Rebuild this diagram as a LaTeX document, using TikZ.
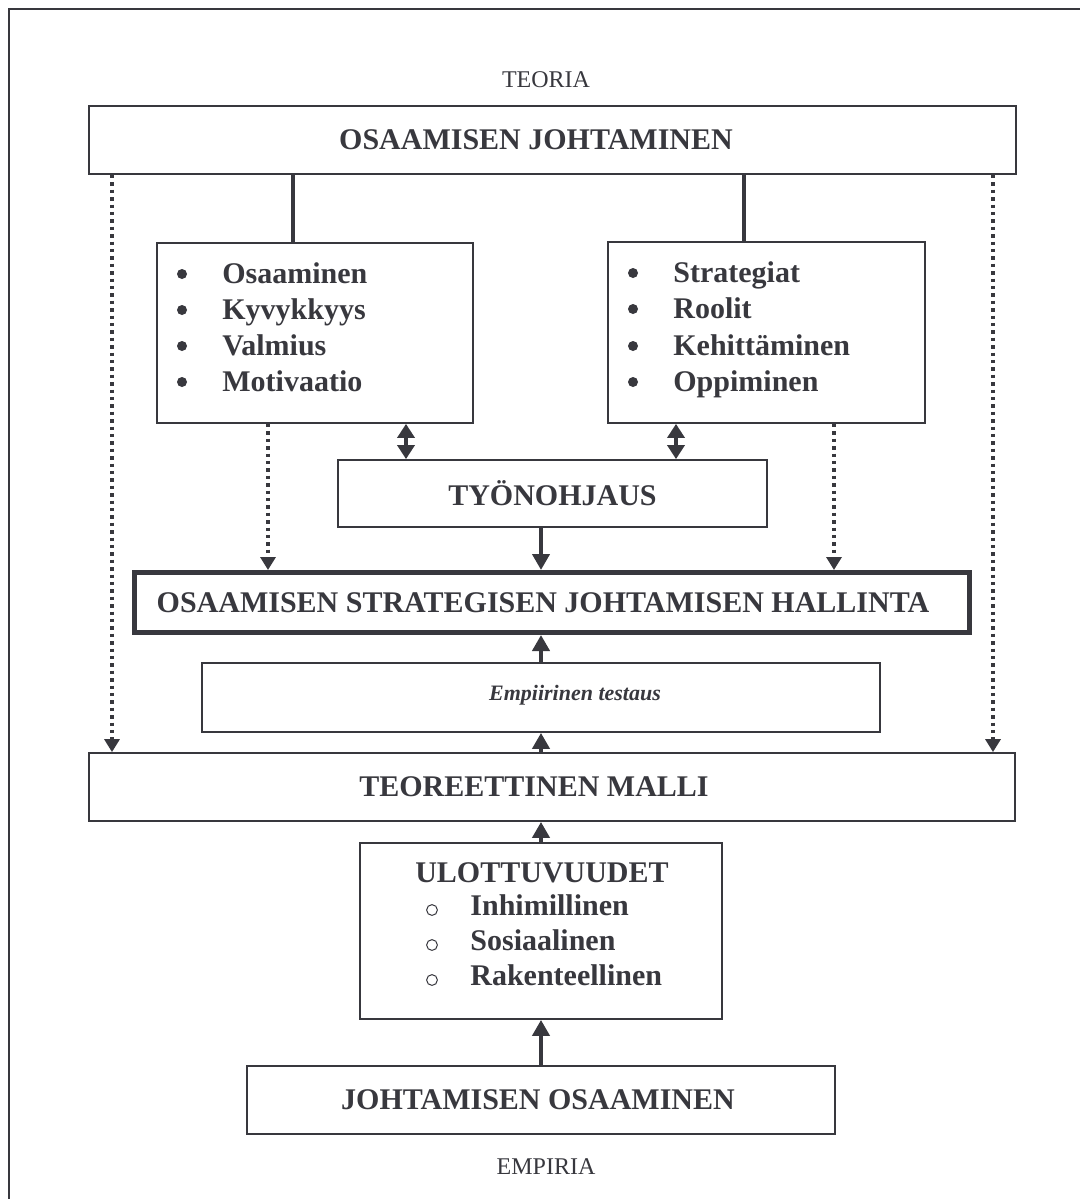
\documentclass[tikz,border=0pt]{standalone}
\usepackage{fontspec}
\setmainfont{Liberation Serif}
\usetikzlibrary{arrows.meta}
\definecolor{ink}{RGB}{56,56,62}
\begin{document}
\begin{tikzpicture}[x=0.5pt,y=-0.5pt,
  every node/.style={text=ink, font=\fontsize{15}{18}\selectfont\bfseries},
  box/.style={draw=ink, line width=0.9pt, inner sep=0pt, fill=white},
  plain/.style={text=ink, font=\fontsize{12}{14}\selectfont, inner sep=0pt},
  item/.style={anchor=base west, inner sep=0pt},
  link/.style={draw=ink, line width=1.6pt},
  arr/.style={draw=ink, line width=2.2pt, -{Triangle[width=8.5pt,length=8pt]}},
  dotarr/.style={draw=ink, line width=1.7pt, dash pattern=on 1.7pt off 2pt, -{Triangle[width=7.5pt,length=6.5pt]}},
  dblarr/.style={draw=ink, line width=2.4pt, {Triangle[width=8.5pt,length=7pt]}-{Triangle[width=8.5pt,length=7pt]}},
  dot/.style={fill=ink},
  ring/.style={draw=ink, line width=0.5pt},
]
\useasboundingbox (0,0) rectangle (1080,1199);
% frame
\draw[ink, line width=1pt] (9,1199) -- (9,9) -- (1080,9);

% headings
\node[plain] (teoria) at (546,80) {TEORIA};
\node[plain] (empiria) at (546,1167) {EMPIRIA};

% boxes
\node[box, minimum width=463.5pt, minimum height=34pt] (A) at (552.5,140) {};
\node[box, minimum width=158pt, minimum height=90pt] (L) at (315,333) {};
\node[box, minimum width=158.5pt, minimum height=90.5pt] (R) at (766.5,332.5) {};
\node[box, minimum width=214.5pt, minimum height=33.5pt] (T) at (552.5,493.5) {TYÖNOHJAUS};
\node[box, line width=2.5pt, minimum width=417.5pt, minimum height=30pt] (S) at (552,602.5) {};
\node[box, minimum width=339pt, minimum height=34.5pt] (E) at (541,697.5) {};
\node[box, minimum width=463pt, minimum height=34pt] (M) at (552,787) {};
\node[box, minimum width=181pt, minimum height=88pt] (U) at (541,931) {};
\node[box, minimum width=294pt, minimum height=34pt] (J) at (541,1100) {};

% box titles
\node (At) at (536,140) {OSAAMISEN JOHTAMINEN};
\node (St) at (543,602.5) {OSAAMISEN STRATEGISEN JOHTAMISEN HALLINTA};
\node[font=\fontsize{11}{13}\selectfont\bfseries\itshape] (Et) at (575,695) {Empiirinen testaus};
\node (Mt) at (534,787) {TEOREETTINEN MALLI};
\node (Jt) at (538,1100) {JOHTAMISEN OSAAMINEN};

% left list
\foreach \y/\t [count=\i] in {283/Osaaminen,319/Kyvykkyys,355/Valmius,391/Motivaatio}{
  \fill[dot] (182,\y-9) circle (2.5pt);
  \node[item] (l\i) at (222,\y) {\t};
}
% right list
\foreach \y/\t [count=\i] in {282/Strategiat,318/Roolit,355/Kehittäminen,391/Oppiminen}{
  \fill[dot] (633,\y-9) circle (2.5pt);
  \node[item] (r\i) at (673,\y) {\t};
}
% dimensions
\node[anchor=base, inner sep=0pt] (uh) at (542,882) {ULOTTUVUUDET};
\foreach \y/\t [count=\i] in {915/Inhimillinen,950/Sosiaalinen,985/Rakenteellinen}{
  \draw[ring] (432,\y-5) circle (2.7pt);
  \node[item] (u\i) at (470,\y) {\t};
}

% connector columns
\coordinate (xa) at (541,0);
\coordinate (xl) at (112,0);
\coordinate (xr) at (993,0);
\coordinate (xll) at (268,0);
\coordinate (xrr) at (834,0);
\coordinate (xdl) at (406,0);
\coordinate (xdr) at (676,0);
\coordinate (xsl) at (293,0);
\coordinate (xsr) at (744,0);

% solid links
\draw[link] (A.south -| xsl) -- (L.north -| xsl);
\draw[link] (A.south -| xsr) -- (R.north -| xsr);

% double arrows
\draw[dblarr] (L.south -| xdl) -- (T.north -| xdl);
\draw[dblarr] (R.south -| xdr) -- (T.north -| xdr);

% central arrows
\draw[arr] (T.south -| xa) -- (S.north -| xa);
\draw[arr] (E.north -| xa) -- (S.south -| xa);
\draw[arr] (M.north -| xa) -- (E.south -| xa);
\draw[arr] (U.north -| xa) -- (M.south -| xa);
\draw[arr] (J.north -| xa) -- (U.south -| xa);

% dotted arrows
\draw[dotarr] (A.south -| xl) -- (M.north -| xl);
\draw[dotarr] (A.south -| xr) -- (M.north -| xr);
\draw[dotarr] (L.south -| xll) -- (S.north -| xll);
\draw[dotarr] (R.south -| xrr) -- (S.north -| xrr);
\end{tikzpicture}
\end{document}
